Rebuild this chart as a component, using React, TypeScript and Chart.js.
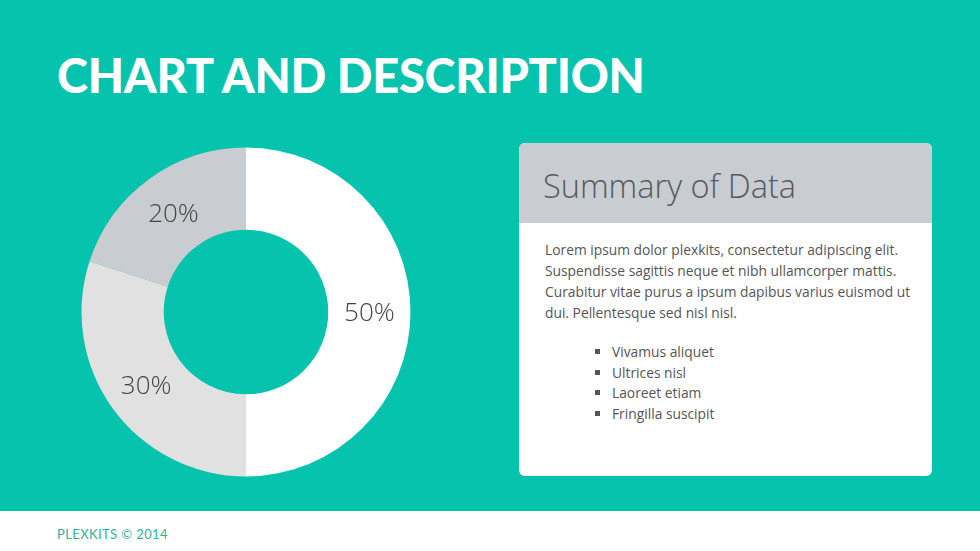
import React, { useEffect, useRef } from "react";
import { Chart, registerables } from "chart.js";

Chart.register(...registerables);

const categories = ["A", "B", "C"];
const values = [50, 30, 20];
const sliceLabels = ["50%", "30%", "20%"];
const sliceColors = ["#ffffff", "#e1e1e1", "#c9ccd0"];
const bullets = ["Vivamus aliquet", "Ultrices nisl", "Laoreet etiam", "Fringilla suscipit"];
const paragraph =
  "Lorem ipsum dolor plexkits, consectetur adipiscing elit. Suspendisse sagittis neque et nibh ullamcorper mattis. Curabitur vitae purus a ipsum dapibus varius euismod ut dui. Pellentesque sed nisl nisl.";

const TEAL = "#06c3ad";

const labelPlugin = {
  id: "ringLabels",
  afterDatasetsDraw(chart: any) {
    const ctx = chart.ctx;
    const meta = chart.getDatasetMeta(0);
    ctx.save();
    ctx.font = '300 26px "Open Sans"';
    ctx.fillStyle = "#444444";
    ctx.textAlign = "center";
    ctx.textBaseline = "middle";
    meta.data.forEach((arc: any, i: number) => {
      const { x, y, startAngle, endAngle, innerRadius, outerRadius } = arc.getProps(
        ["x", "y", "startAngle", "endAngle", "innerRadius", "outerRadius"],
        true
      );
      const a = (startAngle + endAngle) / 2;
      const r = (innerRadius + outerRadius) / 2;
      ctx.fillText(sliceLabels[i], x + Math.cos(a) * r, y + Math.sin(a) * r + 2);
    });
    ctx.restore();
  },
};

function Donut() {
  const ref = useRef<HTMLCanvasElement | null>(null);
  useEffect(() => {
    if (!ref.current) return;
    const chart = new Chart(ref.current, {
      type: "doughnut",
      data: {
        labels: categories,
        datasets: [
          {
            data: values,
            backgroundColor: sliceColors,
            borderWidth: 0,
          },
        ],
      },
      options: {
        animation: false,
        responsive: true,
        maintainAspectRatio: false,
        cutout: "50%",
        layout: { padding: 5.5 },
        plugins: { legend: { display: false }, tooltip: { enabled: false } },
      },
      plugins: [labelPlugin],
    });
    return () => chart.destroy();
  }, []);
  return (
    <div style={{ position: "absolute", left: 76, top: 142, width: 340, height: 340 }}>
      <canvas ref={ref} />
    </div>
  );
}

export default function App() {
  useEffect(() => {
    document.body.style.margin = "0";
  }, []);
  return (
    <div
      style={{
        position: "fixed",
        left: 0,
        top: 0,
        width: 980,
        height: 551,
        background: "#ffffff",
        overflow: "hidden",
        fontFamily: '"Open Sans", sans-serif',
      }}
    >
      <div style={{ position: "absolute", left: 0, top: 0, width: 980, height: 511, background: TEAL }} />
      <div
        style={{
          position: "absolute",
          left: 57,
          top: 45,
          color: "#ffffff",
          fontFamily: "Lato",
          fontWeight: 900,
          fontSize: 47,
          letterSpacing: -0.3,
          lineHeight: "60px",
          whiteSpace: "nowrap",
        }}
      >
        CHART AND DESCRIPTION
      </div>
      <Donut />
      <div
        style={{
          position: "absolute",
          left: 519,
          top: 143,
          width: 413,
          height: 333,
          background: "#ffffff",
          borderRadius: 6,
          overflow: "hidden",
        }}
      >
        <div
          style={{
            height: 80,
            background: "#c9ccd0",
            color: "#555a60",
            fontWeight: 300,
            fontSize: 32.5,
            lineHeight: "86px",
            paddingLeft: 24,
            whiteSpace: "nowrap",
          }}
        >
          Summary of Data
        </div>
        <div
          style={{
            padding: "16px 8px 0 26px",
            fontSize: 13.8,
            lineHeight: "21px",
            color: "#555555",
          }}
        >
          {paragraph}
        </div>
        <ul
          style={{
            margin: "19px 0 0 0",
            paddingLeft: 93,
            fontSize: 13.8,
            lineHeight: "20.7px",
            color: "#555555",
            listStyleType: "square",
          }}
        >
          {bullets.map((b) => (
            <li key={b}>{b}</li>
          ))}
        </ul>
      </div>
      <div
        style={{
          position: "absolute",
          left: 57,
          top: 525,
          color: "#2fb3a0",
          fontFamily: "Lato",
          fontSize: 13,
          letterSpacing: 0.4,
          lineHeight: "18px",
        }}
      >
        PLEXKITS © 2014
      </div>
    </div>
  );
}
